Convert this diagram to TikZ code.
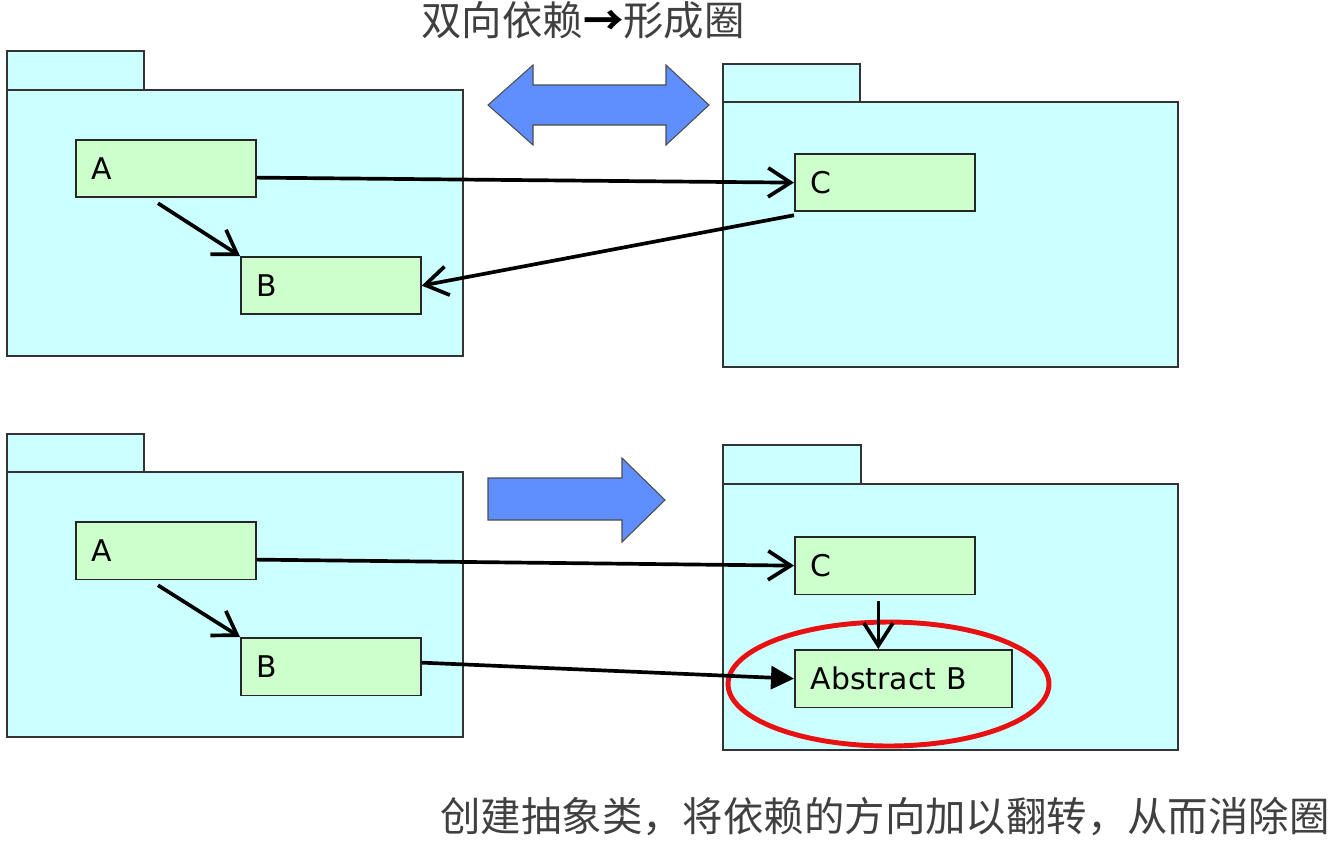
\documentclass[tikz,border=0pt]{standalone}
\usepackage{fontspec}
\newfontfamily\cjk{Noto Sans CJK SC}
\newfontfamily\lblfont{DejaVu Sans}
\usepackage{tikz}
\usetikzlibrary{arrows.meta}
\definecolor{pkgcyan}{HTML}{CCFFFF}
\definecolor{clsgreen}{HTML}{CCFFCC}
\definecolor{bigblue}{HTML}{5F8FFF}
\definecolor{ringred}{HTML}{E81010}
\tikzset{
  pkg/.style={fill=pkgcyan, draw=black!80, line width=1pt},
  cls/.style={draw=black!85, fill=clsgreen, line width=1pt, anchor=north west,
    minimum height=1.15cm, inner xsep=0.32cm, text width=#1, align=left,
    font=\lblfont\fontsize{17}{20}\selectfont},
  cls/.default=2.96cm,
  dep/.style={line width=2.1pt, -{Straight Barb[length=0.45cm,width=0.58cm]}},
  depfill/.style={line width=2.1pt, -{Triangle[length=0.46cm,width=0.46cm]}},
  bigarrow/.style={fill=bigblue, draw=black!70, line width=0.6pt},
  ring/.style={draw=ringred, line width=2.8pt},
  cjktext/.style={font=\cjk\fontsize{23}{26}\selectfont, text=black!75}
}

\begin{document}
\begin{tikzpicture}[x=0.02cm, y=-0.02cm]
  \useasboundingbox (0,0) rectangle (1341,846);

  % titles
  \node[cjktext] (title) at (583,20) {双向依赖{\color{black}\bfseries →}形成圈};
  \node[cjktext] (caption) at (885,817) {创建抽象类，将依赖的方向加以翻转，从而消除圈};

  % packages, top
  \draw[pkg] (7,51) rectangle (144,90);
  \draw[pkg] (7,90) rectangle (463,356);
  \draw[pkg] (723,64) rectangle (860,102);
  \draw[pkg] (723,102) rectangle (1178,367);

  % packages, bottom
  \draw[pkg] (7,434) rectangle (144,472);
  \draw[pkg] (7,472) rectangle (463,737);
  \draw[pkg] (723,445) rectangle (861,484);
  \draw[pkg] (723,484) rectangle (1178,750);

  % big arrows
  \draw[bigarrow] (488,105) -- (533,65) -- (533,85) -- (666,85) -- (666,65)
    -- (709,105) -- (666,145) -- (666,125) -- (533,125) -- (533,145) -- cycle;
  \draw[bigarrow] (488,478) -- (622,478) -- (622,458) -- (665,500)
    -- (622,542) -- (622,520) -- (488,520) -- cycle;

  % classes, top
  \node[cls] (A) at (75,139) {A};
  \node[cls] (B) at (240,256) {B};
  \node[cls] (C) at (794,153) {C};

  % classes, bottom
  \node[cls] (A2) at (75,521) {A};
  \node[cls] (B2) at (240,637) {B};
  \node[cls] (C2) at (794,536) {C};
  \node[cls=3.7cm] (AB) at (794,649) {Abstract B};

  \draw[ring] (888.5,684) ellipse [x radius=3.21cm, y radius=1.24cm];

  % dependencies, top
  \draw[dep] ([xshift=1.66cm, yshift=-0.1cm]A.south west) -- (B.north west);
  \draw[dep] ([yshift=-0.18cm]A.east) -- (C.west);
  \draw[dep] ([yshift=-0.06cm]C.south west) -- (B.east);

  % dependencies, bottom
  \draw[dep] ([xshift=1.66cm, yshift=-0.1cm]A2.south west) -- (B2.north west);
  \draw[dep] ([yshift=-0.18cm]A2.east) -- (C2.west);
  \coordinate (cdown) at ([xshift=-0.13cm, yshift=-0.12cm]C2.south);
  \draw[dep] (cdown) -- (cdown |- AB.north);
  \draw[depfill] ([yshift=0.08cm]B2.east) -- (AB.west);
\end{tikzpicture}
\end{document}
